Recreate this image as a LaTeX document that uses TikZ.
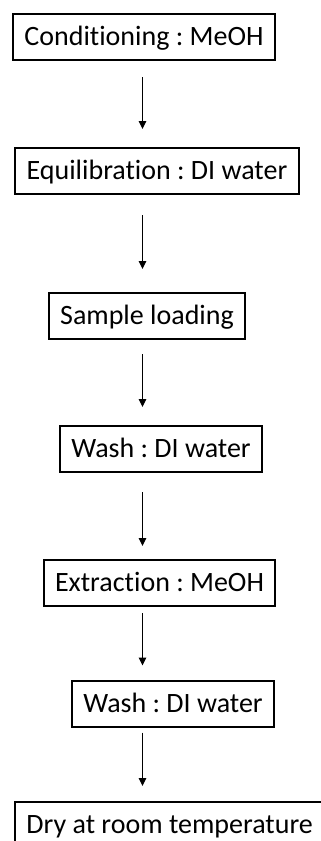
\documentclass[tikz,border=0pt]{standalone}
\usepackage{fontspec}
\setmainfont{Carlito}[Ligatures={NoCommon}]
\frenchspacing
\usetikzlibrary{arrows.meta}
\tikzset{
    procnode/.style = {rectangle, draw=black, line width=2pt, minimum height=46pt, inner xsep=11.5pt, text height=17.5pt, text depth=0pt, font=\fontsize{28}{31}\selectfont},
    edgep/.style = {-{Triangle[length=8pt,width=7.5pt]}, line width=1.1pt},
}

\begin{document}
\begin{tikzpicture}[x=1pt, y=-1pt]
  \clip (0,0) rectangle (321,841);
  \coordinate (axis) at (142.5,0);
  \node (cond) at (144,37) [procnode] {Conditioning : MeOH};
  \node (equi) at (157,171) [procnode] {Equilibration : DI water};
  \node (load) at (147,316) [procnode] {Sample loading};
  \node (washa) at (161,449) [procnode] {Wash : DI water};
  \node (extr) at (159.5,583) [procnode] {Extraction : MeOH};
  \node (washb) at (173,703.5) [procnode] {Wash : DI water};
  \node (dry) at (14,801) [procnode, anchor=north west] {Dry at room temperature};
  % arrows
  \draw[edgep, shorten <=16pt, shorten >=18pt] (cond.south -| axis) -- (equi.north -| axis);
  \draw[edgep, shorten <=20pt, shorten >=23pt] (equi.south -| axis) -- (load.north -| axis);
  \draw[edgep, shorten <=14pt, shorten >=18pt] (load.south -| axis) -- (washa.north -| axis);
  \draw[edgep, shorten <=19pt, shorten >=13pt] (washa.south -| axis) -- (extr.north -| axis);
  \draw[edgep, shorten <=6pt, shorten >=14pt] (extr.south -| axis) -- (washb.north -| axis);
  \draw[edgep, shorten <=5pt, shorten >=15pt] (washb.south -| axis) -- (dry.north -| axis);
\end{tikzpicture}
\end{document}
